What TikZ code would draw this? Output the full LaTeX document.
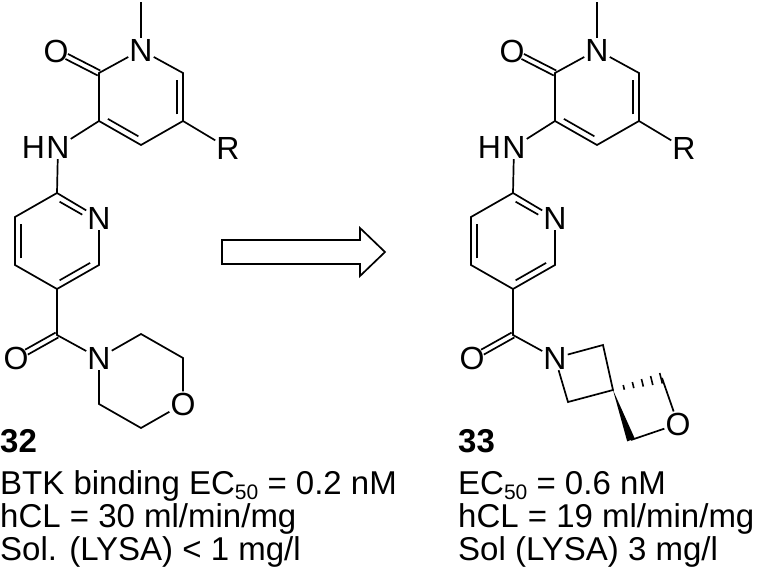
\documentclass[tikz,border=0pt]{standalone}
\usepackage{fontspec}
\setmainfont{Liberation Sans}
\usetikzlibrary{calc}
\newcommand{\atomf}{\fontsize{32}{38}\selectfont}
\newcommand{\txtf}{\fontsize{33}{38}\selectfont}
\newcommand{\subf}[1]{\raisebox{-5pt}{\fontsize{21}{21}\selectfont #1}}
\tikzset{
  atom/.style={inner sep=1pt, font=\atomf},
  bond/.style={line width=1.7pt},
  inner/.style={line width=1.7pt, shorten <=3pt, shorten >=3pt},
  txt/.style={anchor=base west, inner sep=0pt, font=\txtf},
}
\newcommand{\inb}[3]{\draw[inner] ($(#1)!0.15!(#3)$) -- ($(#2)!0.15!(#3)$);}
\newcommand{\cobond}[2]{%
  \draw[bond, shorten >=12pt] ($(#1)!2.8pt!90:(#2)$) -- ($(#2)!2.8pt!-90:(#1)$);
  \draw[bond, shorten >=12pt] ($(#1)!2.8pt!-90:(#2)$) -- ($(#2)!2.8pt!90:(#1)$);}
\begin{document}
\begin{tikzpicture}[x=1pt,y=-1pt]
\useasboundingbox (0,0) rectangle (758,579);
\foreach \p/\dx in {L/0,R/456}{
  \begin{scope}[xshift=\dx]
  \node[atom] (\p n1) at (141,50) {N};
  \coordinate (\p c2) at (99,73);
  \coordinate (\p c3) at (99,121);
  \coordinate (\p c4) at (141,145);
  \coordinate (\p c5) at (183,121);
  \coordinate (\p c6) at (183,73);
  \coordinate (\p ctr) at (141,97);
  \coordinate (\p me) at (141,2);
  \coordinate (\p o1c) at (56,51);
  \node[atom] (\p o1) at (56,51) {O};
  \node[atom] (\p r) at (228,148) {R};
  \node[atom] (\p nh) at (58,147) {N};
  \node[atom, anchor=east, inner sep=0pt] (\p h) at (\p nh.west) {H};
  \coordinate (\p d2) at (57,193);
  \node[atom] (\p dn) at (99,218) {N};
  \coordinate (\p dnc) at (99,217);
  \coordinate (\p d6) at (99,265);
  \coordinate (\p d5) at (57,289);
  \coordinate (\p d4) at (15,265);
  \coordinate (\p d3) at (15,217);
  \coordinate (\p dctr) at (57,241);
  \coordinate (\p cc) at (57,335);
  \coordinate (\p o2c) at (16,358);
  \node[atom] (\p o2) at (16,358) {O};
  \node[atom] (\p an) at (99,358) {N};
  \draw[bond] (\p me) -- (\p n1);
  \draw[bond] (\p n1) -- (\p c2) -- (\p c3) -- (\p c4) -- (\p c5) -- (\p c6) -- (\p n1);
  \inb{\p c3}{\p c4}{\p ctr}
  \inb{\p c5}{\p c6}{\p ctr}
  \cobond{\p c2}{\p o1c}
  \draw[bond] (\p c5) -- (\p r);
  \draw[bond] (\p c3) -- (\p nh);
  \draw[bond] (\p nh) -- (\p d2);
  \draw[bond] (\p d2) -- (\p dn) -- (\p d6) -- (\p d5) -- (\p d4) -- (\p d3) -- (\p d2);
  \draw[inner, shorten >=12pt] ($(\p d2)!0.15!(\p dctr)$) -- ($(\p dnc)!0.15!(\p dctr)$);
  \inb{\p d6}{\p d5}{\p dctr}
  \inb{\p d4}{\p d3}{\p dctr}
  \draw[bond] (\p d5) -- (\p cc) -- (\p an);
  \cobond{\p cc}{\p o2c}
  \end{scope}
}
% morpholine
\coordinate (m1) at (141,334);
\coordinate (m2) at (183,358);
\node[atom] (mo) at (183,404) {O};
\coordinate (m4) at (141,428);
\coordinate (m5) at (99,404);
\draw[bond] (Lan) -- (m1) -- (m2) -- (mo) -- (m4) -- (m5) -- (Lan);
% spiro azetidine-oxetane
\coordinate (a1) at (603,345);
\coordinate (sp) at (613,390);
\coordinate (a3) at (568,402);
\coordinate (q) at (662,378);
\coordinate (w) at (631,440);
\node[atom] (so) at (678,424) {O};
\draw[bond] (Ran) -- (a1) -- (sp) -- (a3) -- (Ran);
\foreach \t in {0.22,0.41,0.6,0.79,0.98}{
  \pgfmathsetmacro{\px}{613+49*\t}
  \pgfmathsetmacro{\py}{390-12*\t}
  \pgfmathsetmacro{\hl}{1.5+4*\t}
  \draw[line width=1.6pt] ({\px-0.238*\hl},{\py-0.971*\hl}) -- ({\px+0.238*\hl},{\py+0.971*\hl});
}
\fill (sp) -- (634.8,438.6) -- (627.2,441.4) -- cycle;
\draw[bond] (q) -- (so);
\draw[bond] (w) -- (so);
% arrow
\draw[line width=1.7pt, fill=white, line join=miter] (222,240) -- (360,240) -- (360,228) -- (385,252) -- (360,276) -- (360,264) -- (222,264) -- cycle;
% texts
\node[txt] (t32) at (0,452) {\textbf{32}};
\node[txt] (t1) at (0,494) {BTK binding EC\subf{50} = 0.2 nM};
\node[txt] (t2) at (0,527) {hCL = 30 ml/min/mg};
\node[txt] (t3) at (0,560) {Sol. (LYSA) < 1 mg/l};
\node[txt] (t33) at (458,452) {\textbf{33}};
\node[txt] (t4) at (458,494) {EC\subf{50} = 0.6 nM};
\node[txt] (t5) at (458,527) {hCL = 19 ml/min/mg};
\node[txt] (t6) at (458,560) {Sol (LYSA) 3 mg/l};
\end{tikzpicture}
\end{document}
